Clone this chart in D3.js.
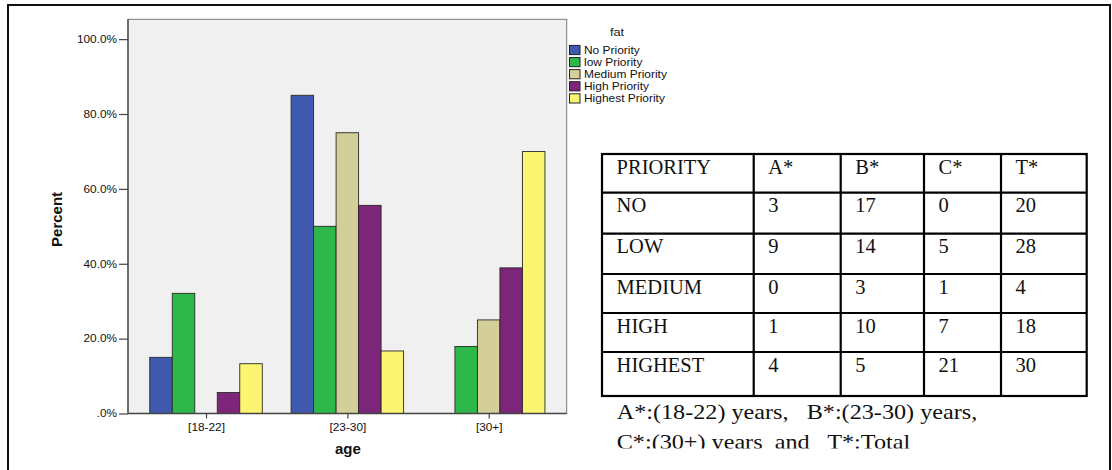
<!DOCTYPE html>
<html>
<head>
<meta charset="utf-8">
<script src="https://cdn.jsdelivr.net/npm/d3@7"></script>
<style>
  html, body { margin: 0; padding: 0; background: #fff; }
  svg { display: block; }
</style>
</head>
<body>
<svg id="chart" width="1112" height="470"></svg>
<script>
// Age groups on the x axis
const ages = ["[18-22]", "[23-30]", "[30+]"];
// Priority levels for fat (legend order)
const priorities = ["No Priority", "low Priority", "Medium Priority", "High Priority", "Highest Priority"];
// Percent of each priority level falling in each age group
const noPriority      = [15.0, 85.0, 0.0];
const lowPriority     = [32.1, 50.0, 17.9];
const mediumPriority  = [0.0, 75.0, 25.0];
const highPriority    = [5.6, 55.6, 38.9];
const highestPriority = [13.3, 16.7, 70.0];
const yTicks = [0, 20, 40, 60, 80, 100];
const colors = ["#3e59ad", "#2fb84a", "#d4cf98", "#7d2679", "#fbf572"];

// Counts table
const tableHeader = ["PRIORITY", "A*", "B*", "C*", "T*"];
const tableLabels = ["NO", "LOW", "MEDIUM", "HIGH", "HIGHEST"];
const countA = [3, 9, 0, 1, 4];
const countB = [17, 14, 3, 10, 5];
const countC = [0, 5, 1, 7, 21];
const countT = [20, 28, 4, 18, 30];
const captionLines = ["A*:(18-22) years,   B*:(23-30) years,", "C*:(30+) years  and   T*:Total"];

const seriesValues = [noPriority, lowPriority, mediumPriority, highPriority, highestPriority];

const svg = d3.select("#chart");
const SANS = "'Liberation Sans', Arial, sans-serif";
const SERIF = "'Liberation Serif', 'Times New Roman', serif";
const SX = 1.16; // horizontal stretch of small chart labels

// Outer frame (open at the bottom)
svg.append("path")
  .attr("d", "M8,470 V5 H1110 V470")
  .attr("fill", "none").attr("stroke", "#111").attr("stroke-width", 2);

// Plot area
const plot = { left: 128, top: 19.3, right: 566.7, bottom: 413.5 };

const x = d3.scalePoint().domain(ages)
  .range([plot.left, plot.right]).padding(0.552);
const inner = d3.scaleBand().domain(priorities)
  .range([-56.25, 56.25]);
const y = d3.scaleLinear().domain([0, 105.3]).range([plot.bottom, plot.top]);

svg.append("rect")
  .attr("x", plot.left).attr("y", plot.top)
  .attr("width", plot.right - plot.left).attr("height", plot.bottom - plot.top)
  .attr("fill", "#f0f0f0").attr("stroke", "#7a7a7a").attr("stroke-width", 1);

// Bars
const bars = [];
priorities.forEach((p, si) => {
  ages.forEach((a, ai) => {
    const v = seriesValues[si][ai];
    if (v > 0) bars.push({ p, a, v, c: colors[si] });
  });
});
svg.append("g").selectAll("rect").data(bars).join("rect")
  .attr("x", d => x(d.a) + inner(d.p))
  .attr("y", d => y(d.v))
  .attr("width", inner.bandwidth())
  .attr("height", d => y(0) - y(d.v))
  .attr("fill", d => d.c)
  .attr("stroke", "#2a2a2a").attr("stroke-width", 0.9);

// Y axis
const yAxis = svg.append("g")
  .attr("transform", `translate(${plot.left},0)`)
  .call(d3.axisLeft(y).tickValues(yTicks).tickSize(9).tickSizeOuter(0).tickPadding(2)
    .tickFormat(d => d === 0 ? ".0%" : d.toFixed(1) + "%"));
yAxis.select(".domain").attr("stroke", "#444").attr("stroke-width", 1.3)
  .attr("d", `M0,${plot.bottom}V${plot.top}`);
yAxis.selectAll(".tick line").attr("stroke", "#444").attr("stroke-width", 1.2);
yAxis.selectAll(".tick text")
  .attr("font-family", SANS).attr("font-size", 10.2).attr("fill", "#111")
  .attr("x", -11 / SX).attr("transform", `scale(${SX},1)`);

// X axis
const xAxis = svg.append("g")
  .attr("transform", `translate(0,${plot.bottom})`)
  .call(d3.axisBottom(x).tickSize(5).tickSizeOuter(0).tickPadding(4));
xAxis.select(".domain").attr("stroke", "#444").attr("stroke-width", 1.3)
  .attr("d", `M${plot.left},0H${plot.right}`);
xAxis.selectAll(".tick line").attr("stroke", "#444").attr("stroke-width", 1.2);
xAxis.selectAll(".tick text")
  .attr("font-family", SANS).attr("font-size", 10.2).attr("fill", "#111")
  .attr("transform", `scale(${SX},1)`)
  .attr("x", 0).attr("y", 10.5);

// Axis titles
svg.append("text")
  .attr("x", (plot.left + plot.right) / 2 + 0.5).attr("y", 454)
  .attr("text-anchor", "middle")
  .attr("font-family", SANS).attr("font-weight", "bold").attr("font-size", 15)
  .attr("fill", "#111").text("age");
svg.append("text")
  .attr("transform", `translate(62,${(plot.top + plot.bottom) / 2 + 3}) rotate(-90)`)
  .attr("text-anchor", "middle")
  .attr("font-family", SANS).attr("font-weight", "bold").attr("font-size", 15)
  .attr("fill", "#111").text("Percent");

// Legend
const legend = svg.append("g").attr("transform", "translate(569,50)");
legend.append("text")
  .attr("y", -14.5)
  .attr("text-anchor", "middle")
  .attr("font-family", SANS).attr("font-size", 11).attr("fill", "#222")
  .attr("transform", `scale(${SX},1)`)
  .attr("x", 48 / SX)
  .text("fat");
const li = legend.selectAll("g.item").data(priorities).join("g")
  .attr("class", "item")
  .attr("transform", (d, i) => `translate(0,${i * 12.1})`);
li.append("rect")
  .attr("x", 0.5).attr("y", -4.6).attr("width", 10.5).attr("height", 9.2)
  .attr("fill", (d, i) => colors[i]).attr("stroke", "#222").attr("stroke-width", 1);
li.append("text")
  .attr("x", 15 / SX).attr("y", 3.8)
  .attr("transform", `scale(${SX},1)`)
  .attr("font-family", SANS).attr("font-size", 10.3).attr("fill", "#111")
  .text(d => d);

// Table of counts
const colEdges = [602, 753.7, 840.7, 924, 1001, 1086.7];
const rowEdges = [154, 192.7, 233.7, 274, 313, 352, 396];
const tableRows = [tableHeader].concat(tableLabels.map((lab, i) =>
  [lab, countA[i], countB[i], countC[i], countT[i]]));
const table = svg.append("g");
tableRows.forEach((row, ri) => {
  row.forEach((cell, ci) => {
    table.append("text")
      .attr("x", colEdges[ci] + 14.6)
      .attr("y", rowEdges[ri] + 19.5)
      .attr("font-family", SERIF).attr("font-size", 20.5).attr("fill", "#111")
      .text(cell);
  });
});
table.append("rect")
  .attr("x", colEdges[0]).attr("y", rowEdges[0])
  .attr("width", colEdges[colEdges.length - 1] - colEdges[0])
  .attr("height", rowEdges[rowEdges.length - 1] - rowEdges[0])
  .attr("fill", "none").attr("stroke", "#000").attr("stroke-width", 2.2);
colEdges.slice(1, -1).forEach(cx => table.append("line")
  .attr("x1", cx).attr("x2", cx).attr("y1", rowEdges[0]).attr("y2", rowEdges[rowEdges.length - 1])
  .attr("stroke", "#000").attr("stroke-width", 2.2));
rowEdges.slice(1, -1).forEach(ry => table.append("line")
  .attr("x1", colEdges[0]).attr("x2", colEdges[colEdges.length - 1]).attr("y1", ry).attr("y2", ry)
  .attr("stroke", "#000").attr("stroke-width", 2.2));

// Caption under the table (bottom line cut off by the frame edge)
svg.append("clipPath").attr("id", "capclip")
  .append("rect").attr("x", 590).attr("y", 395).attr("width", 500).attr("height", 53.5);
svg.append("g").attr("clip-path", "url(#capclip)")
  .selectAll("text").data(captionLines).join("text")
  .attr("transform", (d, i) => `translate(616.7,${418.7 + i * 30.5}) scale(1.18,1)`)
  .attr("font-family", SERIF).attr("font-size", 20.5).attr("fill", "#111")
  .attr("xml:space", "preserve")
  .style("white-space", "pre")
  .text(d => d);
</script>
</body>
</html>
